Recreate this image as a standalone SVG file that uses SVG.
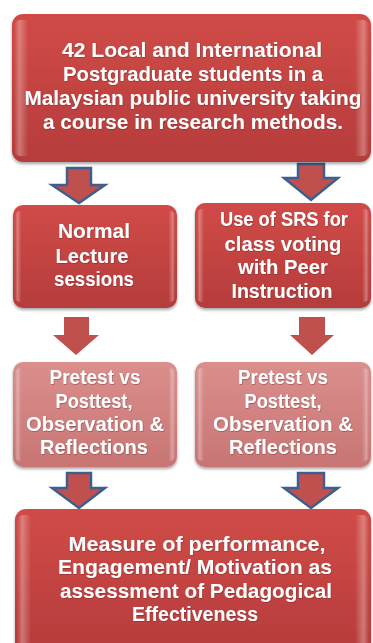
<svg xmlns="http://www.w3.org/2000/svg" width="373" height="643" viewBox="0 0 373 643">
<defs>
<linearGradient id="gRed" x1="0" y1="0" x2="0" y2="1">
<stop offset="0" stop-color="#D04B47"/>
<stop offset="1" stop-color="#B63C3C"/>
</linearGradient>
<linearGradient id="gPink" x1="0" y1="0" x2="0" y2="1">
<stop offset="0" stop-color="#DA8F8D"/>
<stop offset="1" stop-color="#C87574"/>
</linearGradient>
<linearGradient id="gEdge" x1="0" y1="0" x2="1" y2="0">
<stop offset="0" stop-color="#ffffff" stop-opacity="0"/>
<stop offset="0.015" stop-color="#ffffff" stop-opacity="0.3"/>
<stop offset="0.04" stop-color="#ffffff" stop-opacity="0"/>
<stop offset="0.96" stop-color="#ffffff" stop-opacity="0"/>
<stop offset="0.985" stop-color="#ffffff" stop-opacity="0.3"/>
<stop offset="1" stop-color="#ffffff" stop-opacity="0"/>
</linearGradient>
<filter id="sh" x="-10%" y="-10%" width="120%" height="130%">
<feDropShadow dx="0" dy="2" stdDeviation="1.6" flood-color="#000" flood-opacity="0.35"/>
</filter>
<filter id="tsh" x="-5%" y="-20%" width="110%" height="140%">
<feDropShadow dx="0.5" dy="0.7" stdDeviation="0.5" flood-color="#5a1a1a" flood-opacity="0.5"/>
</filter>
</defs>
<style>
.box{fill:url(#gRed);filter:url(#sh);}
.pbox{fill:url(#gPink);filter:url(#sh);}
.edge{fill:url(#gEdge);}
.t{font-family:"Liberation Sans",Arial,sans-serif;font-weight:bold;font-size:19.5px;fill:#ffffff;text-anchor:middle;filter:url(#tsh);}
.ab{fill:#C0504D;stroke:#3D5F8F;stroke-width:2.5;stroke-linejoin:miter;}
.ar{fill:#C0504D;}
</style>

<g id="connectors">
<polygon class="ab" points="67,168 91,168 91,185 105,185 79,203 52,185 67,185"/>
<polygon class="ab" points="298,164 324,164 324,178 338,178 311,200 284,178 298,178"/>
<polygon class="ar" points="64,317 89,317 89,335 99,335 76,355 53,335 64,335"/>
<polygon class="ar" points="299,317 325,317 325,335 334,335 312,355 290,335 299,335"/>
<polygon class="ab" points="67,473 91,473 91,488 105,488 79,508 52,488 67,488"/>
<polygon class="ab" points="298,473 324,473 324,488 338,488 311,508 284,488 298,488"/>
</g>

<g id="top">
<rect class="box" x="12" y="14" width="359" height="148" rx="11"/>
<rect class="edge" x="14" y="20" width="355" height="136" rx="6"/>
<text class="t" x="192" y="57" textLength="260" lengthAdjust="spacingAndGlyphs">42 Local and International</text>
<text class="t" x="193" y="81" textLength="260" lengthAdjust="spacingAndGlyphs">Postgraduate students in a</text>
<text class="t" x="193" y="105" textLength="337" lengthAdjust="spacingAndGlyphs">Malaysian public university taking</text>
<text class="t" x="193" y="129" textLength="300" lengthAdjust="spacingAndGlyphs">a course in research methods.</text>
</g>

<g id="normal">
<rect class="box" x="13" y="205" width="164" height="103" rx="10"/>
<rect class="edge" x="15" y="211" width="160" height="91" rx="5"/>
<text class="t" x="94" y="238" textLength="72" lengthAdjust="spacingAndGlyphs">Normal</text>
<text class="t" x="92" y="263" textLength="73" lengthAdjust="spacingAndGlyphs">Lecture</text>
<text class="t" x="94" y="286" textLength="80" lengthAdjust="spacingAndGlyphs">sessions</text>
</g>

<g id="srs">
<rect class="box" x="195" y="203" width="176" height="105" rx="10"/>
<rect class="edge" x="197" y="209" width="172" height="93" rx="5"/>
<text class="t" x="284" y="226" textLength="128" lengthAdjust="spacingAndGlyphs">Use of SRS for</text>
<text class="t" x="283" y="251" textLength="117" lengthAdjust="spacingAndGlyphs">class voting</text>
<text class="t" x="283" y="274" textLength="90" lengthAdjust="spacingAndGlyphs">with Peer</text>
<text class="t" x="282" y="298" textLength="101" lengthAdjust="spacingAndGlyphs">Instruction</text>
</g>

<g id="eval-left">
<rect class="pbox" x="13" y="362" width="164" height="105" rx="10"/>
<rect class="edge" x="15" y="368" width="160" height="93" rx="5"/>
<text class="t" x="95" y="384" textLength="91" lengthAdjust="spacingAndGlyphs">Pretest vs</text>
<text class="t" x="94" y="408" textLength="77" lengthAdjust="spacingAndGlyphs">Posttest,</text>
<text class="t" x="95" y="431" textLength="138" lengthAdjust="spacingAndGlyphs">Observation &amp;</text>
<text class="t" x="94" y="454" textLength="108" lengthAdjust="spacingAndGlyphs">Reflections</text>
</g>

<g id="eval-right">
<rect class="pbox" x="195" y="362" width="176" height="105" rx="10"/>
<rect class="edge" x="197" y="368" width="172" height="93" rx="5"/>
<text class="t" x="283" y="384" textLength="90" lengthAdjust="spacingAndGlyphs">Pretest vs</text>
<text class="t" x="283" y="408" textLength="77" lengthAdjust="spacingAndGlyphs">Posttest,</text>
<text class="t" x="283" y="431" textLength="140" lengthAdjust="spacingAndGlyphs">Observation &amp;</text>
<text class="t" x="283" y="454" textLength="108" lengthAdjust="spacingAndGlyphs">Reflections</text>
</g>

<g id="measure">
<rect class="box" x="15" y="509" width="356" height="145" rx="11"/>
<rect class="edge" x="17" y="515" width="352" height="133" rx="6"/>
<text class="t" x="197" y="551" textLength="257" lengthAdjust="spacingAndGlyphs">Measure of performance,</text>
<text class="t" x="195" y="574" textLength="274" lengthAdjust="spacingAndGlyphs">Engagement/ Motivation as</text>
<text class="t" x="196" y="598" textLength="272" lengthAdjust="spacingAndGlyphs">assessment of Pedagogical</text>
<text class="t" x="195" y="621" textLength="126" lengthAdjust="spacingAndGlyphs">Effectiveness</text>
</g>
</svg>
